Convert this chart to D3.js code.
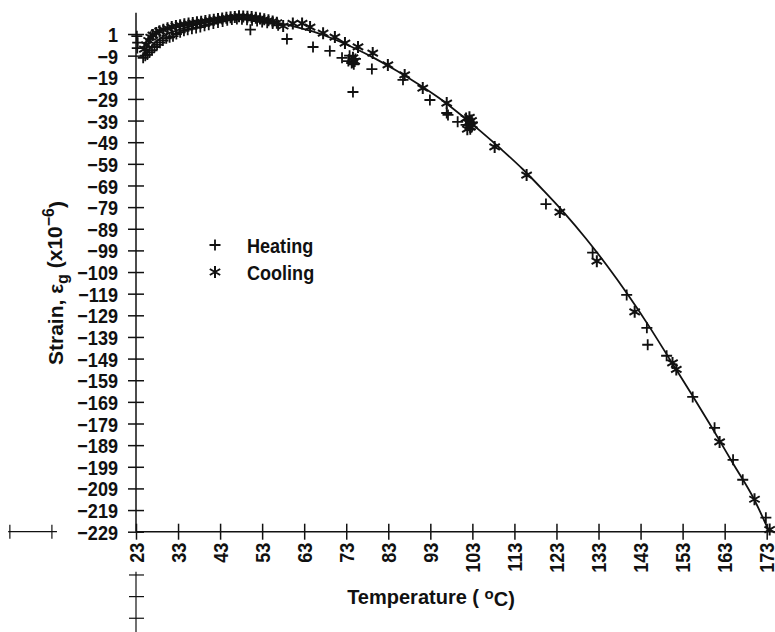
<!DOCTYPE html>
<html>
<head>
<meta charset="utf-8">
<script src="https://cdn.jsdelivr.net/npm/d3@7"></script>
<style>
  body { margin: 0; background: #fff; }
  svg { display: block; }
  text { font-family: "Liberation Sans", Arial, sans-serif; font-weight: bold; fill: #111; }
</style>
</head>
<body>
<svg width="775" height="632"></svg>
<script>
// Tick labels
const xTicks = [23, 33, 43, 53, 63, 73, 83, 93, 103, 113, 123, 133, 143, 153, 163, 173];
const yTicks = [1, -9, -19, -29, -39, -49, -59, -69, -79, -89, -99, -109, -119, -129, -139,
  -149, -159, -169, -179, -189, -199, -209, -219, -229];

// Heating points [temperature, strain]
const heating = [
  [23.2, 0], [23.4, -3], [23.3, -5.5],
  [24.7, -10], [25.2, -9], [25.7, -8.5], [26.2, -7.5], [26.8, -6.5], [27.4, -5], [28.0, -4],
  [28.7, -3], [29.4, -2], [30.2, -1], [31.0, -0.5], [31.8, 0], [32.6, 1], [33.5, 1.8],
  [34.4, 2.5], [35.3, 3], [36.3, 3.4], [37.3, 3.8], [38.3, 4.2], [39.3, 4.8], [40.3, 5.3],
  [41.4, 5.8], [42.5, 6.3], [43.6, 6.8], [44.7, 7.3], [45.8, 7.7], [47.0, 7.9], [48.2, 7.8],
  [49.4, 7.6], [50.2, 3], [50.6, 7.3], [51.8, 7], [53.0, 6.6], [54.2, 6.2], [55.5, 5.8],
  [56.8, 5], [58.9, -1.3], [65.1, -5], [69.1, -6.8], [72.0, -10],
  [73.5, -11.5], [73.8, -9], [74.3, -12.4], [74.5, -12], [74.8, -13], [75.2, -10.5],
  [74.6, -25.8], [79.1, -15.2], [86.5, -20.2], [92.9, -29.5], [96.9, -35.5], [97.2, -36.4],
  [99.5, -39.6], [101.5, -41], [102.5, -43], [103.0, -40], [120.5, -77.6], [131.6, -100],
  [139.7, -119.6], [144.5, -134.8], [144.7, -142.6], [149.2, -147.7], [155.4, -166.7],
  [160.6, -181], [165.0, -195.8], [167.3, -205], [172.8, -222.5]
];

// Cooling points [temperature, strain]
const cooling = [
  [25.0, -6], [25.5, -4], [26.0, -2], [26.5, -0.5], [27.0, 0.5], [27.8, 1.5], [28.6, 2.3],
  [29.5, 3], [30.5, 3.6], [31.5, 4.2], [32.5, 4.7], [33.5, 5.1], [34.5, 5.5], [35.5, 5.8],
  [36.5, 6.1], [37.5, 6.4], [38.5, 6.7], [39.5, 7], [40.5, 7.3], [41.5, 7.6], [42.5, 7.9],
  [43.5, 8.2], [44.5, 8.5], [45.5, 8.7], [46.5, 8.9], [47.5, 9.2], [48.5, 9.1], [49.5, 9],
  [50.5, 8.8], [51.5, 8.5], [52.5, 8.2], [53.5, 7.8], [54.5, 7.3], [55.5, 6.8], [56.5, 6.2],
  [58.0, 4.7], [60.3, 5.9], [62.5, 5.9], [64.4, 4.2], [67.5, 1.4], [70.3, -0.4], [72.7, -3.2],
  [74.6, -10], [75.0, -11.5], [75.8, -5], [79.3, -7.8], [82.9, -13.3], [86.9, -17.9],
  [91.2, -24], [96.9, -30.9], [101.5, -38], [102.0, -40], [102.5, -42], [102.8, -39],
  [101.8, -43], [102.3, -37.5], [103.0, -41], [108.3, -51.2], [115.9, -64.2], [123.8, -81.3],
  [132.6, -104], [141.6, -127.4], [150.6, -151], [151.5, -154], [161.8, -187.5],
  [170.1, -214], [173.7, -228]
];

// Fitted curve
const fitT = [25, 27, 30, 35, 40, 45, 47.5, 50, 55, 60, 65, 70, 75, 80, 85, 90, 95, 100, 105,
  110, 115, 120, 125, 130, 135, 140, 145, 150, 155, 160, 165, 170, 173.6];
const fitStrain = [-9, -4, 0.5, 4, 6.5, 8.2, 8.7, 8.5, 6.8, 4.8, 2.2, -1.3, -5.6, -10.5, -16,
  -22, -28.5, -36, -44, -52.5, -61.5, -71.5, -82, -93.5, -106, -119.5, -134, -149.5, -165,
  -181, -197.5, -214, -229];

const svg = d3.select("svg");
const x = d3.scaleLinear().domain([23, 173]).range([136, 766.7]);
const y = d3.scaleLinear().domain([-229, 1]).range([531.7, 34]);
const fmt = d => (d < 0 ? "\u2212" + Math.abs(d) : String(d));
const sx = 0.86; // narrow the lettering like the plotter font

// Axis lines
svg.append("line")
  .attr("x1", x(23)).attr("x2", x(23)).attr("y1", y(-229)).attr("y2", y(10.8))
  .attr("stroke", "#111").attr("stroke-width", 1.5);
svg.append("line")
  .attr("x1", x(23)).attr("x2", x(175)).attr("y1", y(-229)).attr("y2", y(-229))
  .attr("stroke", "#111").attr("stroke-width", 1.5);

// Y axis ticks and labels
const yAxis = svg.append("g")
  .attr("transform", `translate(${x(23)},0)`)
  .call(d3.axisLeft(y).tickValues(yTicks).tickFormat(fmt).tickSizeInner(8).tickSizeOuter(0).tickPadding(10));
yAxis.select(".domain").remove();
yAxis.selectAll(".tick line").attr("x1", 8).attr("stroke", "#111").attr("stroke-width", 1.5);
yAxis.selectAll(".tick text")
  .style("font-size", "21px")
  .attr("x", -18 / sx)
  .attr("transform", `scale(${sx},1)`)
  .attr("dy", "0.36em");

// X axis ticks and rotated labels
const xAxis = svg.append("g")
  .attr("transform", `translate(0,${y(-229)})`)
  .call(d3.axisBottom(x).tickValues(xTicks).tickFormat(fmt).tickSizeInner(8).tickSizeOuter(0));
xAxis.select(".domain").remove();
xAxis.selectAll(".tick line").attr("y1", -8).attr("stroke", "#111").attr("stroke-width", 1.5);
xAxis.selectAll(".tick text")
  .style("font-size", "21px")
  .style("text-anchor", "end")
  .attr("transform", `rotate(-90) scale(${sx},1)`)
  .attr("x", -11 / sx).attr("y", 0).attr("dy", "0.34em");

// Stray axis continuations seen in the original plot
const extra = svg.append("g").attr("stroke", "#111").attr("stroke-width", 1.2);
extra.append("line").attr("x1", x(-7.4)).attr("x2", x(4.2)).attr("y1", y(-229)).attr("y2", y(-229));
[-7, 3].forEach(t => {
  extra.append("line").attr("x1", x(t)).attr("x2", x(t)).attr("y1", y(-229) - 7).attr("y2", y(-229) + 7);
});
extra.append("line").attr("x1", x(23)).attr("x2", x(23)).attr("y1", y(-247.5)).attr("y2", y(-280));
[-249, -259, -269].forEach(v => {
  extra.append("line").attr("x1", x(23) - 7).attr("x2", x(23) + 8).attr("y1", y(v)).attr("y2", y(v));
});

// Fitted curve
const fit = fitT.map((t, i) => [t, fitStrain[i]]);
svg.append("path")
  .datum(fit)
  .attr("fill", "none")
  .attr("stroke", "#111")
  .attr("stroke-width", 1.8)
  .attr("d", d3.line().x(d => x(d[0])).y(d => y(d[1])).curve(d3.curveMonotoneX));

// Markers
const plusPath = "M-5.5,0H5.5M0,-5.5V5.5";
const starPath = "M0,-6V6M-5.2,-3L5.2,3M-5.2,3L5.2,-3";

svg.append("g").selectAll("path")
  .data(heating).enter().append("path")
  .attr("transform", d => `translate(${x(d[0])},${y(d[1])})`)
  .attr("d", plusPath)
  .attr("stroke", "#111").attr("stroke-width", 1.8).attr("fill", "none");

svg.append("g").selectAll("path")
  .data(cooling).enter().append("path")
  .attr("transform", d => `translate(${x(d[0])},${y(d[1])})`)
  .attr("d", starPath)
  .attr("stroke", "#111").attr("stroke-width", 2).attr("fill", "none");

// Legend
const legend = svg.append("g");
legend.append("path").attr("transform", "translate(215,245)").attr("d", plusPath)
  .attr("stroke", "#111").attr("stroke-width", 1.8);
legend.append("path").attr("transform", "translate(215,272)").attr("d", starPath)
  .attr("stroke", "#111").attr("stroke-width", 2);
legend.append("text").attr("transform", `translate(247,253) scale(${sx},1)`)
  .style("font-size", "21px").text("Heating");
legend.append("text").attr("transform", `translate(247,280) scale(${sx},1)`)
  .style("font-size", "21px").text("Cooling");

// Axis titles
const xTitle = svg.append("text")
  .attr("transform", "translate(431,604)")
  .attr("text-anchor", "middle")
  .style("font-size", "20px");
xTitle.append("tspan").text("Temperature ( ");
xTitle.append("tspan").attr("dy", "-0.35em").style("font-size", "15px").text("o");
xTitle.append("tspan").attr("dy", "0.35em").text("C)");

const yTitle = svg.append("text")
  .attr("transform", "translate(63,283) rotate(-90)")
  .attr("text-anchor", "middle")
  .style("font-size", "21px");
yTitle.append("tspan").text("Strain, \u03B5");
yTitle.append("tspan").attr("dy", "0.3em").style("font-size", "16px").text("g");
yTitle.append("tspan").attr("dy", "-0.3em").text(" (x10");
yTitle.append("tspan").attr("dy", "-0.5em").style("font-size", "16px").text("\u22126");
yTitle.append("tspan").attr("dy", "0.5em").text(")");
</script>
</body>
</html>
